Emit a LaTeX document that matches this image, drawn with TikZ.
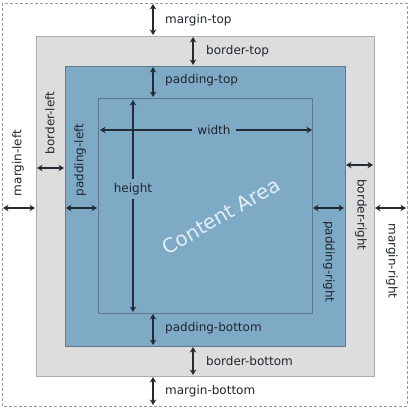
\documentclass[tikz,border=0pt]{standalone}
\usepackage{fontspec}
\setmainfont{DejaVu Sans}
\usetikzlibrary{arrows.meta}
\definecolor{arr}{HTML}{232B34}
\definecolor{greyfill}{HTML}{DEDDDE}
\definecolor{greyline}{HTML}{AEAEAE}
\definecolor{bluefill}{HTML}{7FAAC6}
\definecolor{blueline}{HTML}{5E7A8E}
\definecolor{txt}{HTML}{1F262E}
\definecolor{catxt}{HTML}{E2F0F9}
\definecolor{dashc}{HTML}{9A9A9A}
\begin{document}
\begin{tikzpicture}[x=1pt,y=-1pt,
  dim/.style={draw=arr,line width=1.9pt,{Stealth[length=5.5pt,width=6.5pt]}-{Stealth[length=5.5pt,width=6.5pt]}},
  onedim/.style={draw=arr,line width=1.9pt,-{Stealth[length=5.5pt,width=6.5pt]}},
  lbl/.style={font=\fontsize{12}{14}\selectfont,text=txt,inner sep=1pt},
  gap/.style={font=\fontsize{12}{14}\selectfont,text=txt,inner sep=5pt}]
\useasboundingbox (0,0) rectangle (410,409);
% boxes
\draw[dashc,dashed,line width=0.6pt,dash pattern=on 3pt off 2pt] (2,3) rectangle (407,406);
\draw[fill=greyfill,draw=greyline,line width=0.8pt] (36,36) rectangle (374,376);
\draw[fill=bluefill,draw=blueline,line width=0.6pt] (65,66) rectangle (345,346);
\draw[draw=blueline,line width=0.8pt] (98,98) rectangle (312,313);
% coordinates
\coordinate (mt1) at (153,4); \coordinate (mt2) at (153,35);
\coordinate (bt1) at (193,37); \coordinate (bt2) at (193,65);
\coordinate (pt1) at (153,67); \coordinate (pt2) at (153,97);
\coordinate (pb1) at (153,314); \coordinate (pb2) at (153,345);
\coordinate (bb1) at (193,347); \coordinate (bb2) at (193,375);
\coordinate (mb1) at (153,377); \coordinate (mb2) at (153,405);
\coordinate (ml1) at (3,208); \coordinate (ml2) at (35,208);
\coordinate (bl1) at (37,168); \coordinate (bl2) at (64,168);
\coordinate (pl1) at (66,208); \coordinate (pl2) at (97,208);
\coordinate (pr1) at (313,208); \coordinate (pr2) at (344,208);
\coordinate (br1) at (346,165); \coordinate (br2) at (373,165);
\coordinate (mr1) at (375,208); \coordinate (mr2) at (406,208);
\coordinate (wl) at (100,130); \coordinate (wr) at (312,130);
\coordinate (ht) at (133,100); \coordinate (hb) at (133,312);
% arrows
\foreach \a in {mt,bt,pt,pb,bb,mb,ml,bl,pl,pr,br,mr}{\draw[dim] (\a1) -- (\a2);}
% width / height
\node[gap] (w) at (214,130) {width};
\draw[onedim] (w.west) -- (wl);
\draw[onedim] (w.east) -- (wr);
\node[gap,inner sep=4pt] (h) at (133,189) {height};
\draw[onedim] (h.north) -- (ht);
\draw[onedim] (h.south) -- (hb);
% labels
\node[lbl,anchor=west] (lmt) at (164,20) {margin-top};
\node[lbl,anchor=west] (lbt) at (205,51) {border-top};
\node[lbl,anchor=west] (lpt) at (164,80) {padding-top};
\node[lbl,anchor=west] (lpb) at (164,328) {padding-bottom};
\node[lbl,anchor=west] (lbb) at (205,361) {border-bottom};
\node[lbl,anchor=west] (lmb) at (164,391) {margin-bottom};
\node[lbl,rotate=90] (lml) at (18,163) {margin-left};
\node[lbl,rotate=90] (lbl) at (50,123) {border-left};
\node[lbl,rotate=90] (lpl) at (80,160) {padding-left};
\node[lbl,rotate=-90] (lbr) at (361,215) {border-right};
\node[lbl,rotate=-90] (lpr) at (329,262) {padding-right};
\node[lbl,rotate=-90] (lmr) at (392,261) {margin-right};
\node[font=\fontsize{20}{22}\selectfont,text=catxt,rotate=30,inner sep=0pt] (ca) at (221,216) {Content Area};
\end{tikzpicture}
\end{document}
